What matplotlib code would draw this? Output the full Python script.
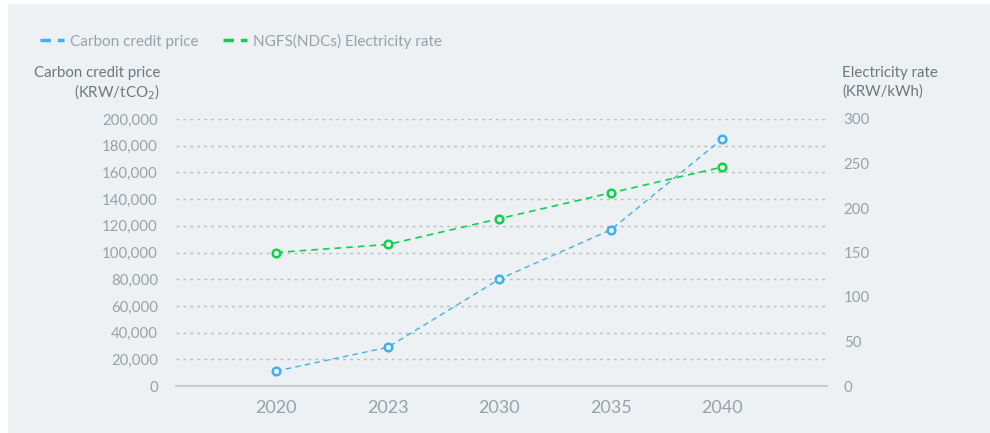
import matplotlib
matplotlib.use("Agg")
import matplotlib.pyplot as plt
from matplotlib.lines import Line2D
from matplotlib.ticker import FuncFormatter

years = ["2020", "2023", "2030", "2035", "2040"]
carbon_price = [11200, 29000, 80000, 117000, 185000]      # KRW/tCO2
electricity_rate = [150, 159, 188, 217, 246]               # KRW/kWh

carbon_ticks = list(range(0, 200001, 20000))
rate_ticks = list(range(0, 301, 50))

BG = "#edf1f4"
BLUE = "#3db2ee"
GREEN = "#12cf4c"
TICK_C = "#9aa2a7"
TITLE_C = "#6f777c"
GRID_C = "#b9bdc0"

plt.rcParams["font.family"] = ["Lato", "DejaVu Sans"]

fig = plt.figure(figsize=(9.9, 4.33), dpi=100, facecolor="white")
# light panel behind the chart
fig.patches.append(plt.Rectangle((8 / 990, 0), 1, 1 - 4 / 433, transform=fig.transFigure,
                                 facecolor=BG, edgecolor="none", zorder=-10))

ax = fig.add_axes([176 / 990, (433 - 386) / 433, (827 - 176) / 990, (386 - 119) / 433])
ax.set_facecolor("none")
ax2 = ax.twinx()

x = list(range(len(years)))

ax.plot(x, carbon_price, color=BLUE, lw=1.0, ls=(0, (4, 3)), marker="o", ms=5.5,
        mfc=BG, mec=BLUE, mew=1.8, zorder=3)
ax2.plot(x, electricity_rate, color=GREEN, lw=1.2, ls=(0, (4, 3)), marker="o", ms=5.5,
         mfc=BG, mec=GREEN, mew=1.8, zorder=3)

ax.set_xlim(-0.9, 4.94)
ax.set_ylim(0, 200000)
ax2.set_ylim(0, 300)

ax.set_xticks(x)
ax.set_xticklabels(years)
ax.set_yticks(carbon_ticks)
ax.yaxis.set_major_formatter(FuncFormatter(lambda v, p: f"{int(v):,}"))
ax2.set_yticks(rate_ticks)

for a in (ax, ax2):
    for s in a.spines.values():
        s.set_visible(False)
ax.spines["bottom"].set_visible(True)
ax.spines["bottom"].set_color("#c4ccd1")
ax.spines["bottom"].set_linewidth(1.5)

for v in carbon_ticks[1:]:
    ax.axhline(v, color=GRID_C, lw=1.0, ls=(0, (2, 3)), zorder=1)

ax.tick_params(axis="x", length=0, pad=10, labelsize=13, labelcolor=TICK_C)
ax.tick_params(axis="y", length=0, pad=13, labelsize=10.8, labelcolor=TICK_C)
ax2.tick_params(axis="y", length=0, pad=12, labelsize=10.8, labelcolor=TICK_C)

# axis titles
fig.text(160 / 990, 1 - 73 / 433, "Carbon credit price", ha="right", va="center",
         fontsize=10.8, color=TITLE_C)
fig.text(160 / 990, 1 - 92 / 433, "(KRW/tCO$_2$)", ha="right", va="center",
         fontsize=10.8, color=TITLE_C)
fig.text(842 / 990, 1 - 73 / 433, "Electricity rate", ha="left", va="center",
         fontsize=10.8, color=TITLE_C)
fig.text(842 / 990, 1 - 92 / 433, "(KRW/kWh)", ha="left", va="center",
         fontsize=10.8, color=TITLE_C)

handles = [Line2D([0], [0], color=BLUE, lw=2.5, ls=(0, (3, 2))),
           Line2D([0], [0], color=GREEN, lw=2.5, ls=(0, (3, 2)))]
leg = fig.legend(handles, ["Carbon credit price", "NGFS(NDCs) Electricity rate"],
                 loc="center left", bbox_to_anchor=(40 / 990, 1 - 41 / 433), ncol=2,
                 frameon=False, fontsize=11, handlelength=1.6, handletextpad=0.35,
                 columnspacing=1.6, borderaxespad=0, borderpad=0)
for t in leg.get_texts():
    t.set_color(TICK_C)

fig.savefig("out.png", dpi=100, facecolor="white")
